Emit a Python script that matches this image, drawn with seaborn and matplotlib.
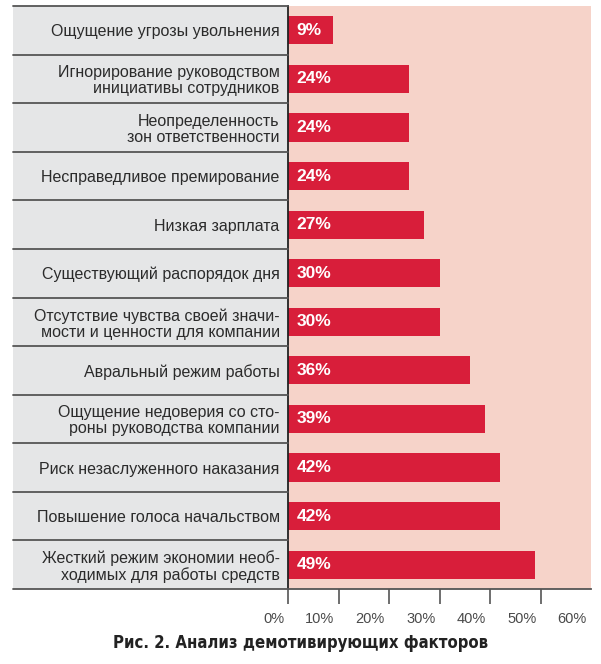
import matplotlib
matplotlib.use('Agg')
import matplotlib.pyplot as plt
import matplotlib.transforms as mtrans
from matplotlib.patches import Rectangle
import seaborn as sns
import pandas as pd

# DATA
factors = [
    'Ощущение угрозы увольнения',
    'Игнорирование руководством\nинициативы сотрудников',
    'Неопределенность\nзон ответственности',
    'Несправедливое премирование',
    'Низкая зарплата',
    'Существующий распорядок дня',
    'Отсутствие чувства своей значи-\nмости и ценности для компании',
    'Авральный режим работы',
    'Ощущение недоверия со сто-\nроны руководства компании',
    'Риск незаслуженного наказания',
    'Повышение голоса начальством',
    'Жесткий режим экономии необ-\nходимых для работы средств',
]
shares = [9, 24, 24, 24, 27, 30, 30, 36, 39, 42, 42, 49]
xticks = [0, 10, 20, 30, 40, 50, 60]
caption = 'Рис. 2. Анализ демотивирующих факторов'

df = pd.DataFrame({'factor': factors, 'share': shares})

# colours
GREY = '#e5e6e7'
PINK = '#f6d3c9'
RED = '#d81e3a'
LINE = '#555555'

sns.set_style('white')
plt.rcParams['font.family'] = ['Liberation Sans', 'DejaVu Sans']

W, H = 601, 664
fig = plt.figure(figsize=(W / 100, H / 100), dpi=100)
ax = fig.add_axes([288 / W, 1 - 589 / H, (591 - 288) / W, (589 - 6) / H])
ax.set_facecolor(PINK)

sns.barplot(data=df, x='share', y='factor', orient='h', color=RED,
            width=0.58, saturation=1, linewidth=0, ax=ax)

ax.set_xlim(0, 60)
ax.set_ylim(len(factors) - 0.5, -0.5)
ax.set_xlabel('')
ax.set_ylabel('')

# grey label panel on the left
fig.patches.append(Rectangle((13 / W, 1 - 589 / H), (288 - 13) / W, (589 - 6) / H,
                             transform=fig.transFigure, facecolor=GREY,
                             edgecolor='none', zorder=-10))
bt = mtrans.blended_transform_factory(fig.transFigure, ax.transData)
for i in range(len(factors) + 1):
    ax.plot([13 / W, 288 / W], [i - 0.5, i - 0.5], transform=bt,
            color=LINE, lw=1.3, clip_on=False, zorder=5)

# category labels
ax.set_yticks(range(len(factors)))
ax.set_yticklabels(factors, fontsize=11.5, color='#2b2b2b', linespacing=1.08)
ax.tick_params(axis='y', length=0, pad=6)

# value labels inside bars
for i, v in enumerate(shares):
    ax.text(1.7, i, f'{v}%', va='center', ha='left', color='white',
            fontsize=12.5, fontweight='bold')

# x axis
ax.set_xticks(xticks)
ax.set_xticklabels([f'{t}%' for t in xticks], fontsize=10.5, color='#4a4a4a')
ax.tick_params(axis='x', direction='out', length=10.5, width=1.2,
               color=LINE, pad=6, bottom=True)
off = mtrans.ScaledTranslation(-4 / 100, 0, fig.dpi_scale_trans)
for lbl in ax.get_xticklabels():
    lbl.set_horizontalalignment('right')
    lbl.set_transform(lbl.get_transform() + off)
# hide the 60% tick mark but keep its label
ax.xaxis.get_major_ticks()[-1].tick1line.set_visible(False)

for s in ['top', 'right']:
    ax.spines[s].set_visible(False)
ax.spines['left'].set_color('#222222')
ax.spines['left'].set_linewidth(1.3)
ax.spines['bottom'].set_color(LINE)
ax.spines['bottom'].set_linewidth(1.3)

fig.text(0.5, 1 - 643 / H, caption, ha='center', va='center',
         fontsize=12, fontweight='bold', fontstretch='condensed',
         color='#222222', family=['DejaVu Sans'])

fig.savefig('out.png', dpi=100, facecolor='white')
